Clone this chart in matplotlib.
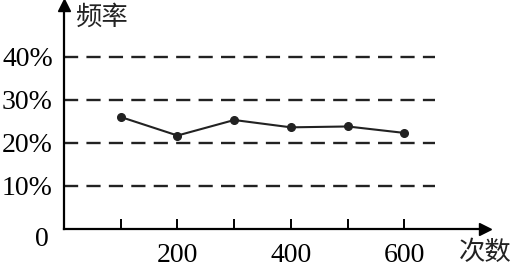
import matplotlib.pyplot as plt
import matplotlib.transforms as mtransforms

plt.rcParams['font.family'] = ['Liberation Serif', 'Noto Sans CJK SC', 'DejaVu Sans']

# data
counts = [100, 200, 300, 400, 500, 600]
freq = [26.0, 21.7, 25.3, 23.6, 23.8, 22.3]   # percent
grid_levels = [10, 20, 30, 40]
y_ticks = [0, 10, 20, 30, 40]
y_labels = ["0", "10%", "20%", "30%", "40%"]
x_ticks = [100, 200, 300, 400, 500, 600]
x_labels = ["", "200", "", "400", "", "600"]

fig = plt.figure(figsize=(5.13, 2.70), dpi=100)
ax = fig.add_axes([64/513, 41/270, (485-64)/513, (229-5)/270])
ax.set_xlim(0, 742)
ax.set_ylim(0, 52)

for spine in ["top", "right"]:
    ax.spines[spine].set_visible(False)
for spine in ["left", "bottom"]:
    ax.spines[spine].set_linewidth(1.6)

# arrow heads
ax.plot(1, 0, ">k", markersize=8, transform=ax.transAxes, clip_on=False)
ax.plot(0, 1, "^k", markersize=8, transform=ax.transAxes, clip_on=False)

# dashed reference lines
for lv in grid_levels:
    ax.plot([0, 654], [lv, lv], color="#222222", linestyle=(0, (6, 3.5)), linewidth=1.7)

ax.plot(counts, freq, color="#222222", linewidth=1.5, marker="o", markersize=5.5)

ax.set_xticks(x_ticks)
ax.set_xticklabels(x_labels, fontsize=20)
ax.tick_params(axis="x", direction="in", length=7, width=1.4, pad=10)
ax.set_yticks(y_ticks)
ax.set_yticklabels(y_labels, fontsize=20)
ax.tick_params(axis="y", length=0, pad=8)

# the "0" sits a little below the axis
zero = ax.get_yticklabels()[0]
zero.set_transform(zero.get_transform() + mtransforms.ScaledTranslation(-4/100, -8/100, fig.dpi_scale_trans))

ax.text(1.0, -0.045, "次数", transform=ax.transAxes, fontsize=19, ha="center", va="top",
        family=["Noto Sans CJK SC", "DejaVu Sans"], color="#222222")
ax.text(0.025, 0.945, "频率", transform=ax.transAxes, fontsize=19, ha="left", va="center",
        family=["Noto Sans CJK SC", "DejaVu Sans"], color="#222222")

fig.savefig("out.png", dpi=100)
